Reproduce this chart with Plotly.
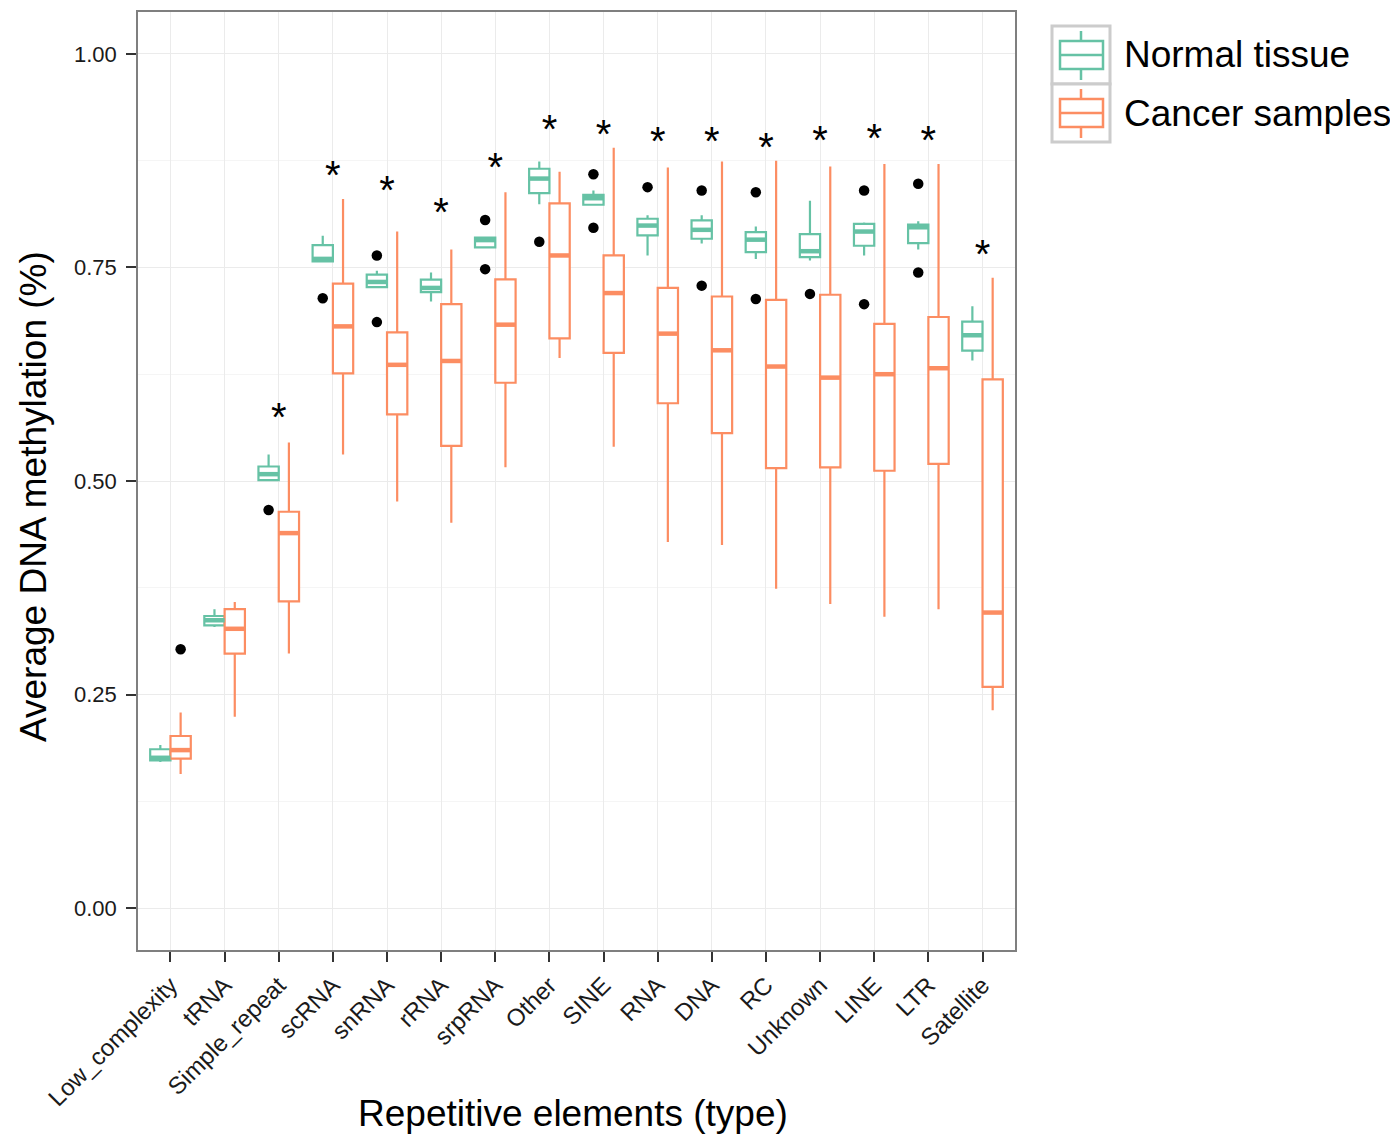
import plotly.graph_objects as go

categories = ["Low_complexity", "tRNA", "Simple_repeat", "scRNA", "snRNA", "rRNA",
              "srpRNA", "Other", "SINE", "RNA", "DNA", "RC", "Unknown", "LINE", "LTR",
              "Satellite"]

# Normal tissue box statistics
normal_lo  = [0.171, 0.329, 0.500, 0.757, 0.727, 0.710, 0.773, 0.824, 0.823, 0.764, 0.778, 0.760, 0.758, 0.764, 0.771, 0.641]
normal_q1  = [0.173, 0.331, 0.501, 0.757, 0.727, 0.721, 0.7735, 0.837, 0.8234, 0.7875, 0.7836, 0.768, 0.762, 0.7754, 0.7785, 0.6526]
normal_med = [0.176, 0.337, 0.508, 0.760, 0.733, 0.726, 0.782, 0.854, 0.831, 0.799, 0.794, 0.7825, 0.769, 0.792, 0.797, 0.6706]
normal_q3  = [0.186, 0.342, 0.517, 0.776, 0.7415, 0.7357, 0.785, 0.8655, 0.835, 0.807, 0.805, 0.7914, 0.789, 0.801, 0.800, 0.6865]
normal_hi  = [0.191, 0.350, 0.531, 0.787, 0.746, 0.744, 0.786, 0.874, 0.840, 0.811, 0.811, 0.798, 0.828, 0.8027, 0.804, 0.7045]
normal_out = [[], [], [0.466], [0.714], [0.764, 0.686], [], [0.8055, 0.748], [0.780],
              [0.859, 0.7965], [0.844], [0.840, 0.7287], [0.838, 0.713], [0.719],
              [0.840, 0.707], [0.848, 0.744], []]

# Cancer samples box statistics
cancer_lo  = [0.157, 0.224, 0.298, 0.531, 0.476, 0.451, 0.516, 0.644, 0.540, 0.4285, 0.425, 0.374, 0.356, 0.341, 0.350, 0.2316]
cancer_q1  = [0.175, 0.298, 0.359, 0.626, 0.578, 0.541, 0.615, 0.667, 0.650, 0.591, 0.556, 0.515, 0.516, 0.512, 0.520, 0.259]
cancer_med = [0.185, 0.327, 0.439, 0.681, 0.636, 0.6405, 0.683, 0.764, 0.720, 0.6725, 0.653, 0.634, 0.621, 0.625, 0.632, 0.346]
cancer_q3  = [0.2015, 0.350, 0.464, 0.731, 0.674, 0.707, 0.736, 0.825, 0.764, 0.726, 0.716, 0.712, 0.718, 0.684, 0.692, 0.619]
cancer_hi  = [0.229, 0.3585, 0.545, 0.830, 0.792, 0.771, 0.838, 0.862, 0.890, 0.867, 0.874, 0.875, 0.868, 0.871, 0.871, 0.738]
cancer_out = [[0.303], [], [], [], [], [], [], [], [], [], [], [], [], [], [], []]

# Significance marker heights (None = no marker)
sig_y = [None, None, 0.570, 0.854, 0.836, 0.810, 0.863, 0.907, 0.902, 0.893, 0.893,
         0.886, 0.895, 0.897, 0.894, 0.761]

yticks = [0.0, 0.25, 0.5, 0.75, 1.0]
ytick_labels = ["0.00", "0.25", "0.50", "0.75", "1.00"]
group_names = ["Normal tissue", "Cancer samples"]

GREEN = "#66C2A5"
ORANGE = "#FC8D62"
FONT = "Liberation Sans, Arial, Helvetica, sans-serif"
DODGE = 0.1875
BW = 0.375

# page layout (body has an 8px default margin)
W, H = 1390, 1129
ML, MT, PW, PH = 130, 4, 877, 938


def px(xp):  # screenshot x pixel -> paper
    return (xp - 8 - ML) / PW


def py(yp):  # screenshot y pixel -> paper
    return (MT + 8 + PH - yp) / PH


idx = list(range(len(categories)))
fig = go.Figure()

groups = [
    (group_names[0], GREEN, -DODGE, normal_lo, normal_q1, normal_med, normal_q3, normal_hi, normal_out),
    (group_names[1], ORANGE, DODGE, cancer_lo, cancer_q1, cancer_med, cancer_q3, cancer_hi, cancer_out),
]

for name, col, off, lo, q1, med, q3, hi, outs in groups:
    xs = [i + off for i in idx]
    fig.add_trace(go.Box(
        name=name, x=xs, q1=q1, median=med, q3=q3, lowerfence=lo, upperfence=hi,
        width=BW, whiskerwidth=0, boxpoints=False,
        line=dict(color=col, width=2.2), fillcolor="white",
        hoverinfo="skip", showlegend=False,
    ))

for name, col, off, lo, q1, med, q3, hi, outs in groups:
    mx, my = [], []
    for i, m in zip(idx, med):
        mx += [i + off - BW / 2, i + off + BW / 2, None]
        my += [m, m, None]
    fig.add_trace(go.Scatter(x=mx, y=my, mode="lines", line=dict(color=col, width=4.5),
                             showlegend=False, hoverinfo="skip"))

for name, col, off, lo, q1, med, q3, hi, outs in groups:
    ox, oy = [], []
    for i, vals in zip(idx, outs):
        for v in vals:
            ox.append(i + off)
            oy.append(v)
    fig.add_trace(go.Scatter(x=ox, y=oy, mode="markers",
                             marker=dict(color="black", size=10.5),
                             showlegend=False, hoverinfo="skip"))

sx = [i for i, s in zip(idx, sig_y) if s is not None]
sy = [s for s in sig_y if s is not None]
fig.add_trace(go.Scatter(x=sx, y=sy, mode="text", text=["*"] * len(sx),
                         textposition="middle center",
                         textfont=dict(size=40, color="black", family=FONT),
                         showlegend=False, hoverinfo="skip"))

# ggplot-style legend keys
shapes = []
annotations = []
key_tops = [26, 84]
for k, (name, col) in enumerate(zip(group_names, [GREEN, ORANGE])):
    t = key_tops[k]
    b = t + 58
    shapes.append(dict(type="rect", xref="paper", yref="paper",
                       x0=px(1052), x1=px(1110), y0=py(b), y1=py(t),
                       line=dict(color="#CCCCCC", width=3), fillcolor="white", layer="above"))
    cy = (t + b) / 2
    shapes.append(dict(type="line", xref="paper", yref="paper",
                       x0=px(1081), x1=px(1081), y0=py(cy + 25), y1=py(cy - 24),
                       line=dict(color=col, width=2.5), layer="above"))
    shapes.append(dict(type="rect", xref="paper", yref="paper",
                       x0=px(1060), x1=px(1103), y0=py(cy + 14), y1=py(cy - 14),
                       line=dict(color=col, width=2.5), fillcolor="white", layer="above"))
    shapes.append(dict(type="line", xref="paper", yref="paper",
                       x0=px(1060), x1=px(1103), y0=py(cy), y1=py(cy),
                       line=dict(color=col, width=2.5), layer="above"))
    annotations.append(dict(text=name, xref="paper", yref="paper",
                            x=px(1122), y=py(cy), xanchor="left", yanchor="middle",
                            showarrow=False,
                            font=dict(size=37, family=FONT, color="black")))

annotations += [
    dict(text="Repetitive elements (type)", xref="paper", yref="paper",
         x=px(573), y=py(1113), xanchor="center", yanchor="middle", showarrow=False,
         font=dict(size=37, family=FONT, color="black")),
    dict(text="Average DNA methylation (%)", xref="paper", yref="paper",
         x=px(33), y=py(497), xanchor="center", yanchor="middle", showarrow=False,
         textangle=-90, font=dict(size=37, family=FONT, color="black")),
]

fig.update_layout(
    width=W, height=H,
    margin=dict(l=ML, r=W - ML - PW, t=MT, b=H - MT - PH, autoexpand=False),
    paper_bgcolor="white", plot_bgcolor="white",
    font=dict(family=FONT, color="black"),
    showlegend=False,
    xaxis=dict(range=[-0.6, 15.6], tickmode="array", tickvals=idx, ticktext=categories,
               tickangle=-45, tickfont=dict(size=24, color="#1a1a1a"),
               showgrid=True, gridcolor="#EBEBEB", gridwidth=1.2, zeroline=False,
               showline=True, mirror=True, linecolor="#7F7F7F", linewidth=1.5,
               ticks="outside", ticklen=10, tickwidth=2, tickcolor="#333333"),
    yaxis=dict(range=[-0.049, 1.049], tickmode="array", tickvals=yticks, ticktext=ytick_labels,
               tickfont=dict(size=22, color="#1a1a1a"), ticklabelstandoff=5,
               showgrid=True, gridcolor="#EBEBEB", gridwidth=1.2, zeroline=False,
               minor=dict(tickmode="array", tickvals=[0.125, 0.375, 0.625, 0.875],
                          showgrid=True, gridcolor="#F5F5F5", gridwidth=1, ticks=""),
               showline=True, mirror=True, linecolor="#7F7F7F", linewidth=1.5,
               ticks="outside", ticklen=10, tickwidth=2, tickcolor="#333333"),
    shapes=shapes,
    annotations=annotations,
)

fig.write_html("out.html")
